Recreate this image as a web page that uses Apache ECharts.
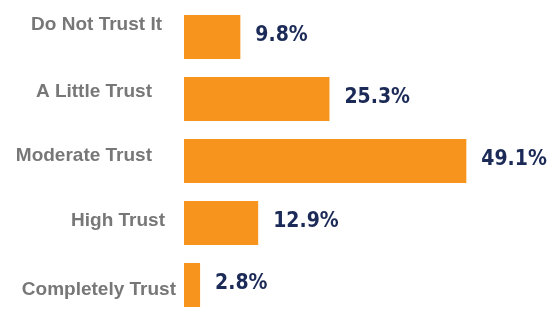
<!DOCTYPE html>
<html>
<head>
<meta charset="utf-8">
<script src="https://cdn.jsdelivr.net/npm/echarts@6/dist/echarts.min.js"></script>
<style>
html,body{margin:0;padding:0;background:#fff;}
#chart{width:554px;height:331px;}
</style>
</head>
<body>
<div id="chart"></div>
<script>
const categories = ['Do Not Trust It', 'A Little Trust', 'Moderate Trust', 'High Trust', 'Completely Trust'];
const values = [9.8, 25.3, 49.1, 12.9, 2.8];

// label layout tweaks (position only): [extra right gap, vertical shift]
const labelShift = [[14, -12], [24, -7], [24, -5], [11, -2], [0, 5]];

const rich = {};
labelShift.forEach((s, i) => {
  const dy = s[1];
  rich['c' + i] = {
    fontFamily: '"Liberation Sans", Arial, sans-serif',
    fontWeight: 'bold',
    fontSize: 19,
    color: '#777777',
    padding: [dy > 0 ? 2 * dy : 0, s[0], dy < 0 ? -2 * dy : 0, 0]
  };
});

const chart = echarts.init(document.getElementById('chart'), null, {renderer: 'canvas'});
chart.setOption({
  animation: false,
  backgroundColor: '#ffffff',
  grid: {left: 184, right: 25, top: 6, bottom: 15, containLabel: false},
  xAxis: {
    type: 'value', min: 0, max: 60, show: false
  },
  yAxis: {
    type: 'category',
    inverse: true,
    data: categories,
    axisLine: {show: false},
    axisTick: {show: false},
    splitLine: {show: false},
    axisLabel: {
      margin: 8,
      formatter: (v, i) => '{c' + i + '|' + v + '}',
      rich: rich
    }
  },
  series: [{
    type: 'bar',
    data: values,
    barWidth: 44,
    itemStyle: {color: '#F7941E'},
    label: {
      show: true,
      position: 'right',
      distance: 15,
      formatter: p => p.value.toFixed(1) + '%',
      fontFamily: '"Liberation Sans Narrow", "DejaVu Sans Condensed", sans-serif',
      fontWeight: 'bold',
      fontSize: 21,
      color: '#1B2A57',
      offset: [0, -1]
    }
  }]
});
</script>
</body>
</html>
